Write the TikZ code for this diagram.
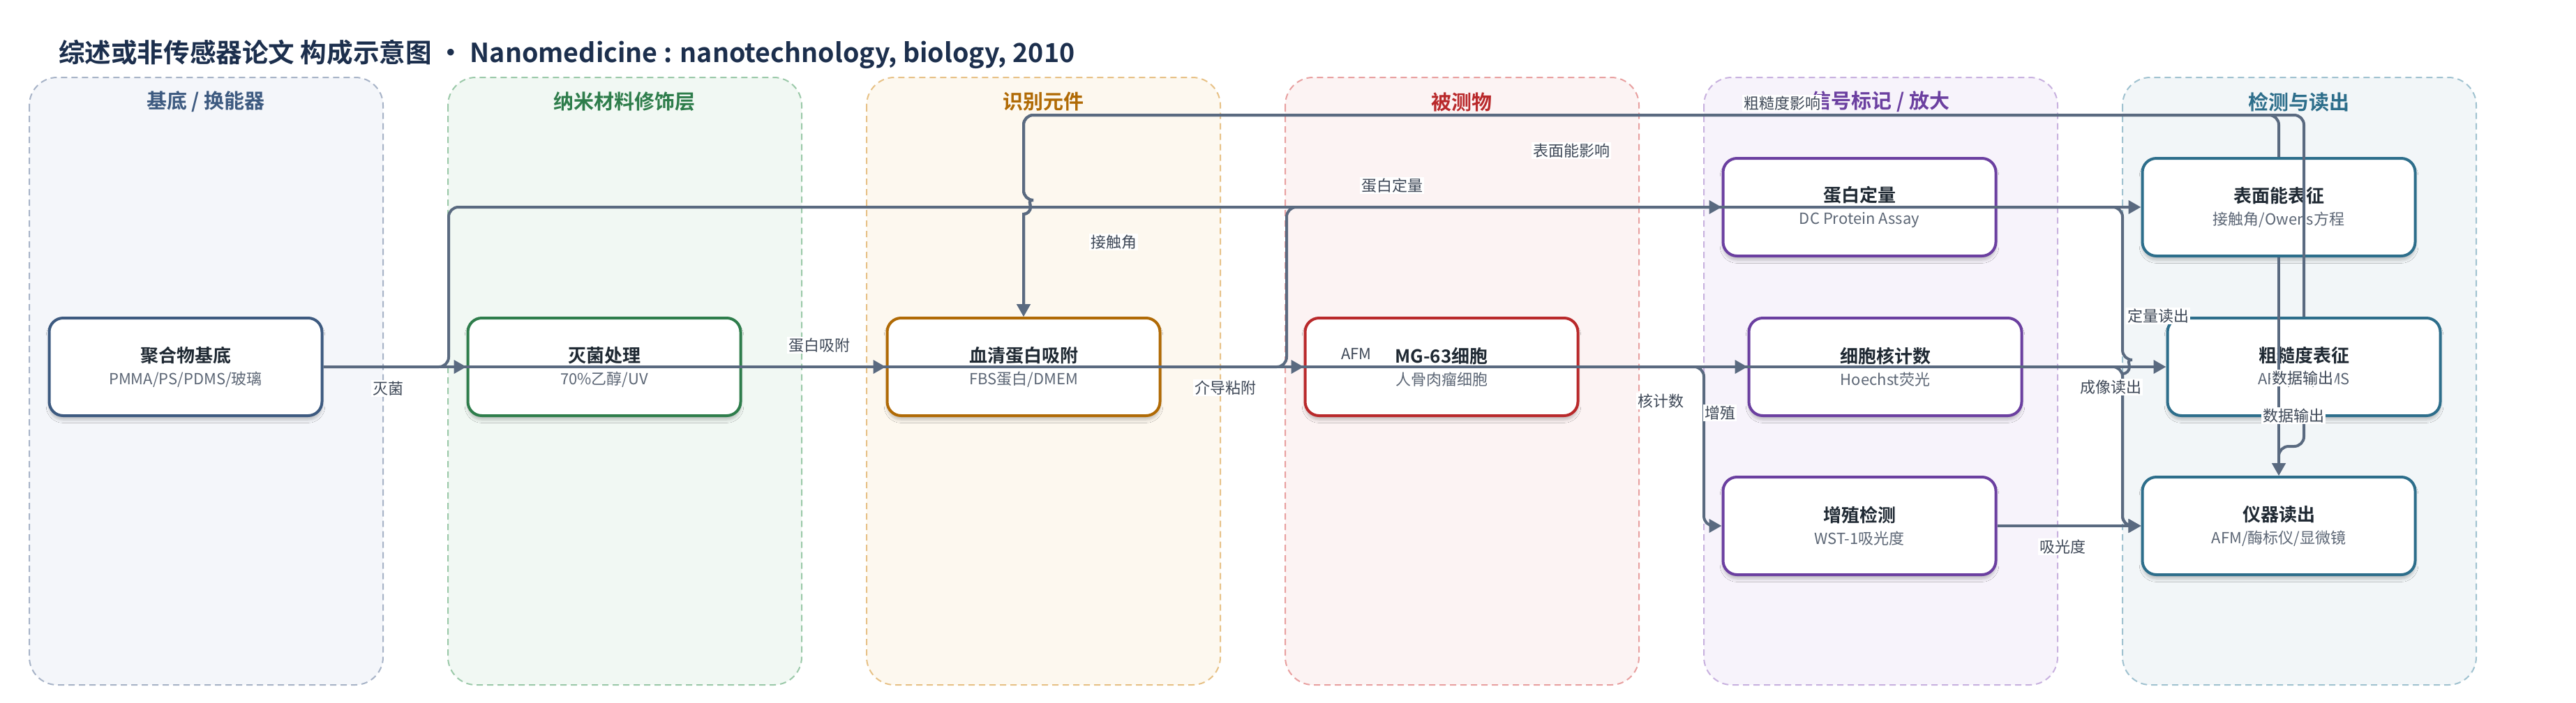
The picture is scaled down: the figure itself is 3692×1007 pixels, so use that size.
\documentclass[tikz,border=0pt]{standalone}
\usepackage{fontspec}
\setmainfont{Noto Sans CJK SC}[BoldFont={* Bold}]
\usetikzlibrary{arrows.meta,shadows.blur}

\definecolor{edgec}{HTML}{5A6A80}
\definecolor{labc}{HTML}{3E4857}
\definecolor{titc}{HTML}{1C2F4D}
\definecolor{nodet}{HTML}{1F2933}
\definecolor{nodes}{HTML}{5C6675}
\definecolor{subC}{HTML}{3D5A80}\definecolor{subF}{HTML}{F4F6FA}\definecolor{subD}{HTML}{A7B3C7}
\definecolor{nanoC}{HTML}{2E7D4B}\definecolor{nanoF}{HTML}{F1F8F3}\definecolor{nanoD}{HTML}{9BC9A9}
\definecolor{recC}{HTML}{B06A05}\definecolor{recF}{HTML}{FDF8EF}\definecolor{recD}{HTML}{E7C186}
\definecolor{anaC}{HTML}{B9292B}\definecolor{anaF}{HTML}{FCF3F3}\definecolor{anaD}{HTML}{E8A0A0}
\definecolor{sigC}{HTML}{6B3FA0}\definecolor{sigF}{HTML}{F7F3FB}\definecolor{sigD}{HTML}{C8B1DF}
\definecolor{detC}{HTML}{2D6E8B}\definecolor{detF}{HTML}{F2F6F8}\definecolor{detD}{HTML}{A0C2D0}

\newcommand{\boxtext}[2]{{\fontsize{13pt}{15pt}\selectfont\bfseries\color{nodet}#1}\\[4pt]{\fontsize{11pt}{13pt}\selectfont\color{nodes}#2}}

\begin{document}
\begin{tikzpicture}[x=0.5pt,y=0.5pt,
    lane/.style ={draw=#1D, fill=#1F, line width=1pt, dash pattern=on 4.5pt off 3pt, rounded corners=20pt},
    lanehead/.style ={text=#1C, font=\fontsize{14.5pt}{17pt}\selectfont\bfseries},
    box/.style ={draw=#1C, fill=white, line width=2pt, rounded corners=10pt, minimum width=195.5pt, minimum height=70pt, align=center,
      blur shadow={shadow xshift=0pt, shadow yshift=-3pt, shadow blur steps=8, shadow opacity=22}},
    edge/.style ={draw=edgec, line width=2pt, rounded corners=7pt},
    arr/.style ={-{Triangle[length=9pt,width=9.5pt]}},
    elab/.style ={fill=white, text=labc, inner sep=1pt, font=\fontsize{11pt}{13pt}\selectfont}]
  \useasboundingbox[fill=white] (0,0) rectangle (3692,-1007);

  \node[anchor=west, text=titc, font=\fontsize{18.8pt}{22pt}\selectfont\bfseries] (title) at (77,-78)
    {综述或非传感器论文 构成示意图 • Nanomedicine : nanotechnology, biology, 2010};

  % swimlanes
  \draw[lane=sub]  (42,-111) rectangle (549,-982);
  \draw[lane=nano] (642,-111) rectangle (1149,-982);
  \draw[lane=rec]  (1242,-111) rectangle (1749,-982);
  \draw[lane=ana]  (1842,-111) rectangle (2349,-982);
  \draw[lane=sig]  (2442,-111) rectangle (2949,-982);
  \draw[lane=det]  (3042,-111) rectangle (3549,-982);
  \node[lanehead=sub]  (hsub)  at (295,-146)  {基底 / 换能器};
  \node[lanehead=nano] (hnano) at (895,-146)  {纳米材料修饰层};
  \node[lanehead=rec]  (hrec)  at (1495,-146) {识别元件};
  \node[lanehead=ana]  (hana)  at (2095,-146) {被测物};
  \node[lanehead=sig]  (hsig)  at (2695,-146) {信号标记 / 放大};
  \node[lanehead=det]  (hdet)  at (3295,-146) {检测与读出};

  % components
  \node[box=sub]  (sub)     at (266,-526)  {\boxtext{聚合物基底}{PMMA/PS/PDMS/玻璃}};
  \node[box=nano] (steril)  at (866,-526)  {\boxtext{灭菌处理}{70\%乙醇/UV}};
  \node[box=rec]  (serum)   at (1467,-526) {\boxtext{血清蛋白吸附}{FBS蛋白/DMEM}};
  \node[box=ana]  (cell)    at (2066,-526) {\boxtext{MG-63细胞}{人骨肉瘤细胞}};
  \node[box=sig]  (protq)   at (2665,-297) {\boxtext{蛋白定量}{DC Protein Assay}};
  \node[box=sig]  (nuc)     at (2702,-526) {\boxtext{细胞核计数}{Hoechst荧光}};
  \node[box=sig]  (prolif)  at (2665,-754) {\boxtext{增殖检测}{WST-1吸光度}};
  \node[box=det]  (senergy) at (3266,-297) {\boxtext{表面能表征}{接触角/Owens方程}};
  \node[box=det]  (rough)   at (3302,-526) {\boxtext{粗糙度表征}{AFM/Ra/RMS}};
  \node[box=det]  (readout) at (3266,-754) {\boxtext{仪器读出}{AFM/酶标仪/显微镜}};

  % connectors
  \draw[edge,arr] (sub.east) -- (steril.west);
  \draw[edge,arr] (steril.east) -- (serum.west);
  \draw[edge,arr] (serum.east) -- (cell.west);
  \draw[edge,arr] (sub.east) -- (643,-526) |- (senergy.west);
  \draw[edge,arr] (serum.east) -- (1844,-526) |- (protq.west);
  \draw[edge,arr] (sub.east) -- (rough.west);
  \draw[edge,arr] (cell.east) -- (nuc.west);
  \draw[edge,arr] (cell.east) -- (2442,-526) |- (prolif.west);
  \draw[edge,arr] (protq.east) -| (3042,-516) [sharp corners] arc[start angle=90,end angle=-90,radius=5pt]
    -- (3042,-700) [rounded corners=7pt] |- (readout.west);
  \draw[edge,arr] (nuc.east) -- (3042,-526) |- (readout.west);
  \draw[edge,arr] (prolif.east) -- (readout.west);
  \draw[edge,arr] (senergy.north) |- (1467,-165) -- (1467,-287) [sharp corners] arc[start angle=90,end angle=-90,radius=5pt]
    -- (1467,-400) [rounded corners=7pt] -- (serum.north);
  \draw[edge,arr] (rough.north) |- (1467,-165) -- (1467,-287) [sharp corners] arc[start angle=90,end angle=-90,radius=5pt]
    -- (1467,-400) [rounded corners=7pt] -- (serum.north);
  \draw[edge,arr] (senergy.south) -- (readout.north);
  \draw[edge,arr] (rough.south) -- (3302,-640) -| (readout.north);

  % connector labels
  \node[elab] (l1)  at (556,-557)  {灭菌};
  \node[elab] (l2)  at (1174,-495) {蛋白吸附};
  \node[elab] (l3)  at (1756,-556) {介导粘附};
  \node[elab] (l4)  at (1596,-347) {接触角};
  \node[elab] (l5)  at (1995,-266) {蛋白定量};
  \node[elab] (l6)  at (1944,-507) {AFM};
  \node[elab] (l7)  at (2380,-575) {核计数};
  \node[elab] (l8)  at (2465,-592) {增殖};
  \node[elab] (l9)  at (3093,-453) {定量读出};
  \node[elab] (l10) at (3025,-555) {成像读出};
  \node[elab] (l11) at (2956,-784) {吸光度};
  \node[elab] (l12) at (2252,-216) {表面能影响};
  \node[elab] (l13) at (2554,-148) {粗糙度影响};
  \node[elab] (l14) at (3300,-542) {数据输出};
  \node[elab] (l15) at (3287,-596) {数据输出};
\end{tikzpicture}
\end{document}
